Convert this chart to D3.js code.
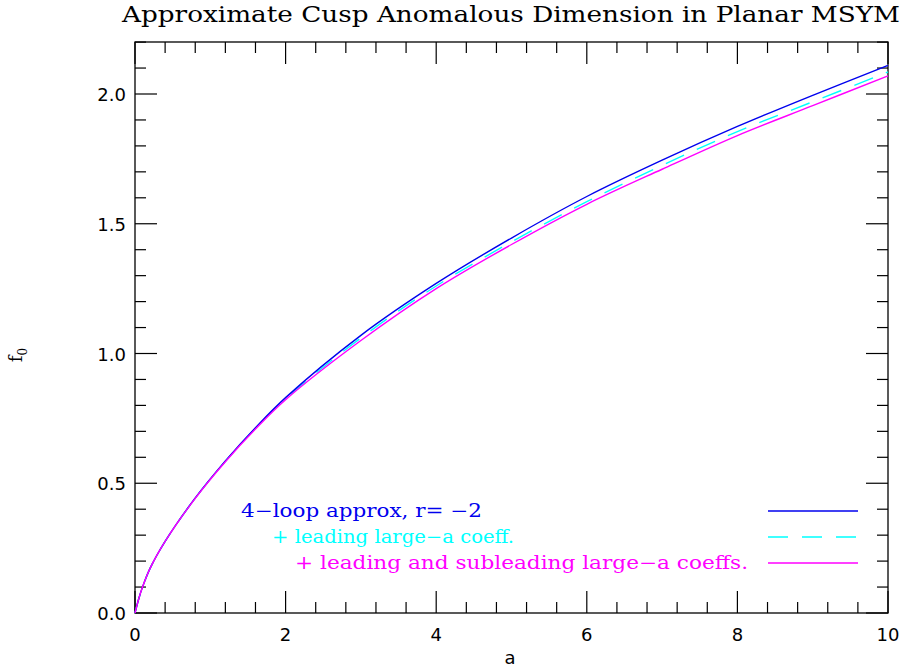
<!DOCTYPE html>
<html><head><meta charset="utf-8">
<script src="https://cdn.jsdelivr.net/npm/d3@7"></script>
<style>body{margin:0;background:#fff}</style>
</head><body><svg id="c" width="900" height="669"></svg>
<script>
var aVals = [0, 0.05, 0.1, 0.2, 0.4, 0.8, 1.2, 1.6, 2, 3, 4, 5, 6, 7, 8, 9, 10];
var fourLoop = [0, 0.055, 0.1, 0.172, 0.276, 0.443, 0.586, 0.714, 0.83, 1.07, 1.27, 1.445, 1.605, 1.745, 1.875, 1.995, 2.11];
var leading = [0, 0.055, 0.1, 0.172, 0.276, 0.443, 0.585, 0.712, 0.826, 1.06, 1.26, 1.43, 1.585, 1.725, 1.855, 1.97, 2.085];
var subleading = [0, 0.055, 0.1, 0.172, 0.276, 0.442, 0.583, 0.709, 0.822, 1.05, 1.25, 1.42, 1.575, 1.71, 1.84, 1.955, 2.07];
var labels = ["4\u2212loop approx, r= \u22122", "+ leading large\u2212a coeff.", "+ leading and subleading large\u2212a coeffs."];
var colors = ["#0000ee", "#00ffff", "#ff00ff"];
var labelX = [241, 272, 295];
var labelW = [241, 242, 453];

var svg = d3.select("#c");
var x = d3.scaleLinear().domain([0, 10]).range([135, 888]);
var y = d3.scaleLinear().domain([0, 2]).range([613, 94]);
var frameTop = 42;

svg.append("rect").attr("x", 135).attr("y", frameTop).attr("width", 753).attr("height", 613 - frameTop)
  .attr("fill", "none").attr("stroke", "#000").attr("stroke-width", 1.3);

var g = svg.append("g").attr("stroke", "#000").attr("stroke-width", 1.2);
d3.range(0, 10.01, 0.4).forEach(function (v) {
  var major = Math.abs(v / 2 - Math.round(v / 2)) < 1e-6;
  var len = major ? 22 : 11;
  g.append("line").attr("x1", x(v)).attr("x2", x(v)).attr("y1", 613).attr("y2", 613 - len);
  g.append("line").attr("x1", x(v)).attr("x2", x(v)).attr("y1", frameTop).attr("y2", frameTop + len);
});
d3.range(0, 2.201, 0.1).forEach(function (v) {
  if (y(v) < frameTop) return;
  var major = Math.abs(v * 2 - Math.round(v * 2)) < 1e-6;
  var len = major ? 22 : 11;
  g.append("line").attr("x1", 135).attr("x2", 135 + len).attr("y1", y(v)).attr("y2", y(v));
  g.append("line").attr("x1", 888).attr("x2", 888 - len).attr("y1", y(v)).attr("y2", y(v));
});

var tf = "DejaVu Sans";
[0, 2, 4, 6, 8, 10].forEach(function (v) {
  svg.append("text").attr("x", x(v)).attr("y", 641).attr("text-anchor", "middle")
    .attr("font-family", tf).attr("font-size", 18).text(v);
});
[0, 0.5, 1, 1.5, 2].forEach(function (v) {
  svg.append("text").attr("x", 126).attr("y", y(v) + 7).attr("text-anchor", "end")
    .attr("font-family", tf).attr("font-size", 18).text(v.toFixed(1));
});

svg.append("text").attr("x", 122).attr("y", 22)
  .attr("font-family", "DejaVu Serif").attr("font-size", 23)
  .attr("textLength", 778).attr("lengthAdjust", "spacingAndGlyphs")
  .text("Approximate Cusp Anomalous Dimension in Planar MSYM");
svg.append("text").attr("x", 510).attr("y", 664).attr("text-anchor", "middle")
  .attr("font-family", tf).attr("font-size", 18).text("a");
var yl = svg.append("text").attr("transform", "translate(22,355) rotate(-90)").attr("text-anchor", "middle")
  .attr("font-family", "DejaVu Serif").attr("font-size", 18);
yl.append("tspan").text("f");
yl.append("tspan").attr("font-size", 12).attr("dy", 5).text("0");

var series = [fourLoop, leading, subleading];
var line = d3.line().x(function (d, i) { return x(aVals[i]); }).y(function (d) { return y(d); })
  .curve(d3.curveCatmullRom.alpha(0.5));
[1, 0, 2].forEach(function (k) {
  svg.append("path").attr("d", line(series[k])).attr("fill", "none")
    .attr("stroke", colors[k]).attr("stroke-width", 1.4)
    .attr("stroke-dasharray", k == 1 ? "20,14" : null);
});

labels.forEach(function (t, k) {
  var ly = 511 + k * 26;
  svg.append("text").attr("x", labelX[k]).attr("y", ly + 6).attr("fill", colors[k])
    .attr("font-family", "DejaVu Serif").attr("font-size", 18)
    .attr("textLength", labelW[k]).attr("lengthAdjust", "spacingAndGlyphs").text(t);
  svg.append("line").attr("x1", 768).attr("x2", 858).attr("y1", ly).attr("y2", ly)
    .attr("stroke", colors[k]).attr("stroke-width", 1.4)
    .attr("stroke-dasharray", k == 1 ? "20,14" : null);
});
</script></body></html>
